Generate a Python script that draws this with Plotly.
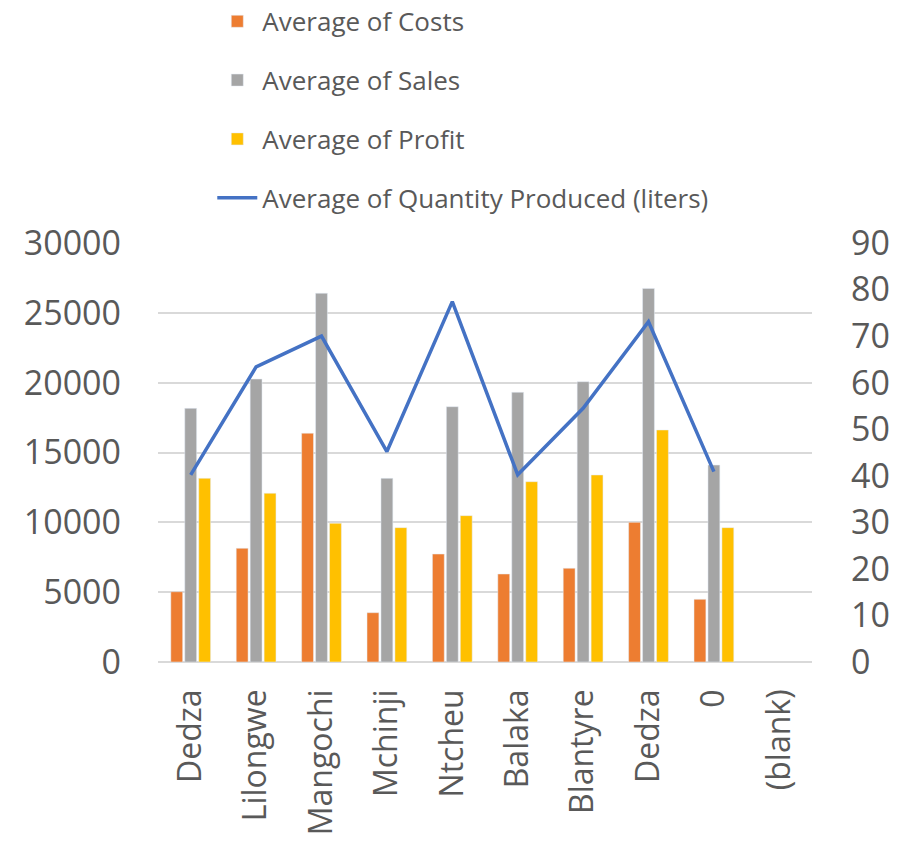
import plotly.graph_objects as go

categories = ["Dedza", "Lilongwe", "Mangochi", "Mchinji", "Ntcheu", "Balaka", "Blantyre", "Dedza", "0", "(blank)"]
costs = [5030, 8140, 16380, 3530, 7730, 6300, 6710, 10000, 4490, None]
sales = [18160, 20260, 26400, 13150, 18280, 19310, 20070, 26750, 14100, None]
profit = [13150, 12080, 9930, 9620, 10480, 12910, 13390, 16610, 9620, None]
quantity = [40.2, 63.4, 70.0, 45.2, 77.4, 40.2, 54.5, 73.1, 40.9, None]

x = list(range(len(categories)))
font_family = "Open Sans, Liberation Sans, sans-serif"
txt = "#595959"

fig = go.Figure()
fig.add_trace(go.Bar(x=x, y=costs, name="Average of Costs", marker_color="#ED7D31", legendgroup="a"))
fig.add_trace(go.Bar(x=x, y=sales, name="Average of Sales", marker_color="#A5A5A5", legendgroup="b"))
fig.add_trace(go.Bar(x=x, y=profit, name="Average of Profit", marker_color="#FFC000", legendgroup="c"))
fig.add_trace(go.Scatter(x=x, y=quantity, name="Average of Quantity Produced (liters)", mode="lines",
                         line=dict(color="#4472C4", width=3.5), yaxis="y2", legendgroup="d"))

fig.update_layout(
    width=911, height=841,
    margin=dict(l=158, r=99, t=243, b=179, autoexpand=False),
    paper_bgcolor="white", plot_bgcolor="white",
    font=dict(family=font_family, color=txt),
    barmode="group", bargap=0.36, bargroupgap=0.15,
    showlegend=True,
    legend=dict(x=0.083, y=1.585, xanchor="left", yanchor="top", orientation="v",
                font=dict(size=26, color=txt), tracegroupgap=22, traceorder="grouped",
                itemwidth=40, bgcolor="rgba(0,0,0,0)"),
    xaxis=dict(tickvals=x, ticktext=categories, range=[-0.5, 9.5], tickangle=-90,
               tickfont=dict(size=32, color=txt), showgrid=False, showline=False,
               ticks="", ticklabelstandoff=20, zeroline=False),
    yaxis=dict(range=[0, 30000], dtick=5000, tickformat="d", tickfont=dict(size=34, color=txt),
               showgrid=True, gridcolor="#D9D9D9", gridwidth=1.5, zeroline=True,
               zerolinecolor="#D9D9D9", zerolinewidth=1.5, showline=False,
               ticks="", ticklabelstandoff=36),
    yaxis2=dict(range=[0, 90], dtick=10, overlaying="y", side="right",
                tickfont=dict(size=34, color=txt), showgrid=False, zeroline=False,
                showline=False, ticks="", ticklabelstandoff=38),
)

fig.write_html("out.html")
